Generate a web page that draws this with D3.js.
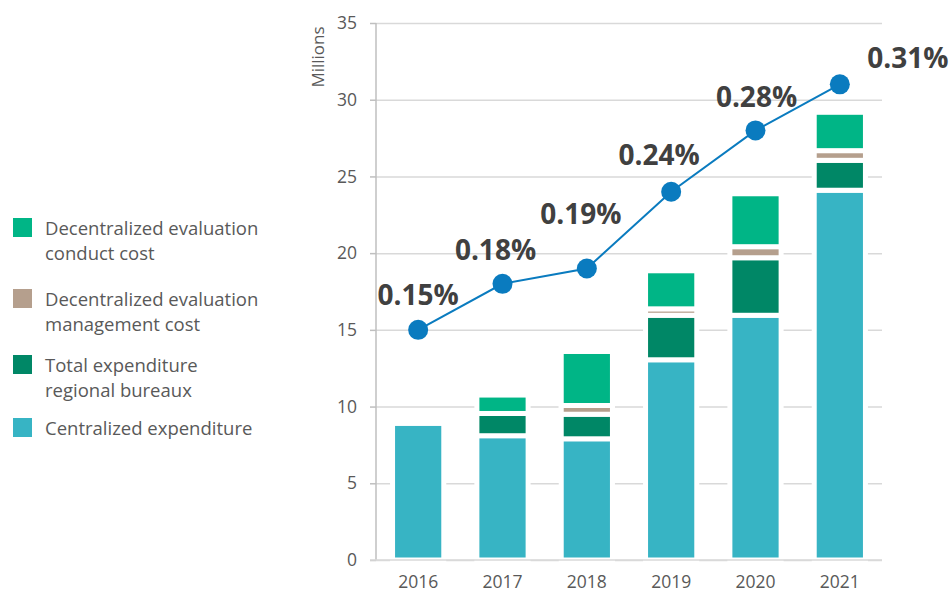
<!DOCTYPE html>
<html>
<head>
<meta charset="utf-8">
<script src="https://cdn.jsdelivr.net/npm/d3@7"></script>
<style>
  body { margin: 0; background: #fff; font-family: "Open Sans", sans-serif; }
  svg text { font-family: "Open Sans", sans-serif; }
</style>
</head>
<body>
<svg id="chart" width="951" height="594"></svg>
<script>
// data (millions)
const years = ["2016", "2017", "2018", "2019", "2020", "2021"];
const centralized = [8.9, 8.1, 7.9, 13.05, 15.95, 24.1];
const regional = [0, 1.45, 1.6, 2.9, 3.75, 1.95];
const management = [0, 0, 0.57, 0.42, 0.72, 0.63];
const conduct = [0, 1.2, 3.52, 2.48, 3.45, 2.5];
const totals = [15, 18, 19, 24, 28, 31];
const shareLabels = ["0.15%", "0.18%", "0.19%", "0.24%", "0.28%", "0.31%"];

const seriesNames = ["Centralized expenditure", "Total expenditure\nregional bureaux",
  "Decentralized evaluation\nmanagement cost", "Decentralized evaluation\nconduct cost"];
const seriesKeys = ["centralized", "regional", "management", "conduct"];
const colors = ["#37b4c4", "#008766", "#b59f8d", "#00b586"];

// hand placement of the percentage labels, relative to the point
const labelOffsets = [[0, -25], [-7, -24], [-6, -44], [-12, -27], [1, -23], [68, -16]];

const svg = d3.select("#chart");
const margin = { top: 23, right: 69, bottom: 34, left: 376 };
const width = 951, height = 594;

const x = d3.scaleBand().domain(years)
  .range([margin.left, width - margin.right]).paddingInner(0.44).paddingOuter(0.22);
const y = d3.scaleLinear().domain([0, 35]).range([height - margin.bottom, margin.top]);

const rows = years.map((yr, i) => ({
  year: yr,
  centralized: centralized[i],
  regional: regional[i],
  management: management[i],
  conduct: conduct[i],
}));
const stacked = d3.stack().keys(seriesKeys)(rows);

// gridlines
svg.append("g")
  .attr("transform", `translate(${margin.left},0)`)
  .call(d3.axisLeft(y).ticks(7).tickSize(-(width - margin.right - margin.left)).tickFormat(""))
  .call(g => g.select(".domain").remove())
  .call(g => g.selectAll("line").attr("stroke", "#d9d9d9").attr("stroke-width", 1.5));

// bars with white outlines
svg.append("g").selectAll("g")
  .data(stacked)
  .join("g")
  .attr("fill", (d, i) => colors[i])
  .selectAll("rect")
  .data(d => d.filter(s => s[1] - s[0] > 0))
  .join("rect")
  .attr("x", d => x(d.data.year) - 2)
  .attr("width", x.bandwidth() + 4)
  .attr("y", d => y(d[1]))
  .attr("height", d => y(d[0]) - y(d[1]))
  .attr("stroke", "#fff")
  .attr("stroke-width", 5);

// y axis
const yAxis = svg.append("g")
  .attr("transform", `translate(${margin.left},0)`)
  .call(d3.axisLeft(y).ticks(7).tickSize(6).tickPadding(13));
yAxis.select(".domain").attr("stroke", "#bfbfbf").attr("stroke-width", 1.5).attr("d", `M0,${y(35)}V${y(0)}`);
yAxis.selectAll("line").attr("stroke", "#bfbfbf").attr("stroke-width", 1.5);
yAxis.selectAll("text").attr("fill", "#595959").style("font-size", "17.5px");

// x axis
const xAxis = svg.append("g")
  .attr("transform", `translate(0,${y(0)})`)
  .call(d3.axisBottom(x).tickSize(0).tickPadding(16));
xAxis.select(".domain").attr("stroke", "#d9d9d9").attr("stroke-width", 1.5)
  .attr("d", `M${margin.left - 6},0H${width - margin.right}`);
xAxis.selectAll("text").attr("fill", "#595959").style("font-size", "17.5px");

svg.append("text")
  .attr("transform", `translate(324,57) rotate(-90)`)
  .attr("text-anchor", "middle")
  .attr("fill", "#595959")
  .style("font-size", "17px")
  .text("Millions");

// share line
const cx = d => x(d) + x.bandwidth() / 2;
svg.append("path")
  .datum(years)
  .attr("fill", "none")
  .attr("stroke", "#0a7bbf")
  .attr("stroke-width", 2)
  .attr("d", d3.line().x(d => cx(d)).y((d, i) => y(totals[i])));

svg.append("g").selectAll("circle")
  .data(years)
  .join("circle")
  .attr("cx", d => cx(d))
  .attr("cy", (d, i) => y(totals[i]))
  .attr("r", 10)
  .attr("fill", "#0a7bbf");

svg.append("g").selectAll("text")
  .data(years)
  .join("text")
  .attr("x", (d, i) => cx(d) + labelOffsets[i][0])
  .attr("y", (d, i) => y(totals[i]) + labelOffsets[i][1])
  .attr("text-anchor", "middle")
  .attr("fill", "#404040")
  .style("font-size", "28px")
  .style("font-weight", "700")
  .text((d, i) => shareLabels[i]);

// legend, top entry first
const legendOrder = [3, 2, 1, 0];
const legendY = [218, 289, 355, 418];
const legend = svg.append("g").selectAll("g")
  .data(legendOrder)
  .join("g")
  .attr("transform", (d, i) => `translate(13,${legendY[i]})`);
legend.append("rect")
  .attr("width", 19).attr("height", 19)
  .attr("fill", d => colors[d]);
legend.append("text")
  .attr("x", 32)
  .attr("y", 17)
  .attr("fill", "#595959")
  .style("font-size", "18.5px")
  .selectAll("tspan")
  .data(d => seriesNames[d].split("\n"))
  .join("tspan")
  .attr("x", 32)
  .attr("dy", (d, i) => i === 0 ? 0 : 25)
  .text(d => d);
</script>
</body>
</html>
